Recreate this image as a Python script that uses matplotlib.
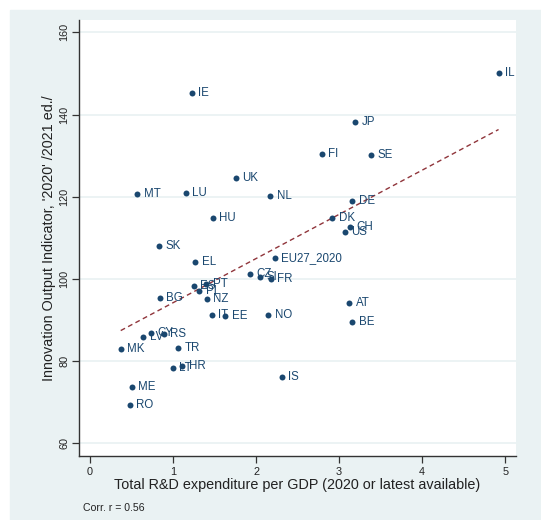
import matplotlib.pyplot as plt
from matplotlib.patches import Rectangle
import numpy as np

plt.rcParams['font.family'] = ['Liberation Sans', 'DejaVu Sans']

countries = ["IL", "IE", "JP", "FI", "SE", "UK", "MT", "LU", "NL", "DE",
             "HU", "DK", "CH", "US", "SK", "EU27_2020", "EL", "CZ", "SI", "FR",
             "PT", "ES", "PL", "BG", "NZ", "AT", "IT", "EE", "NO", "BE",
             "CY", "RS", "LV", "MK", "TR", "HR", "LT", "IS", "ME", "RO"]
rd_gdp = [4.92, 1.225, 3.19, 2.79, 3.38, 1.755, 0.57, 1.157, 2.17, 3.16,
          1.478, 2.92, 3.136, 3.07, 0.83, 2.225, 1.27, 1.924, 2.048, 2.18,
          1.40, 1.25, 1.317, 0.84, 1.41, 3.12, 1.47, 1.63, 2.145, 3.157,
          0.74, 0.89, 0.64, 0.37, 1.06, 1.11, 1.0, 2.31, 0.50, 0.48]
ioi = [150.2, 145.2, 138.3, 130.5, 130.1, 124.6, 120.6, 120.8, 120.2, 119.0,
       114.9, 114.7, 112.6, 111.5, 107.9, 105.0, 104.0, 101.1, 100.4, 100.0,
       98.8, 98.2, 97.1, 95.4, 95.0, 94.2, 91.1, 90.9, 91.1, 89.4,
       86.9, 86.7, 85.9, 83.0, 83.2, 78.8, 78.2, 76.1, 73.8, 69.2]
corr_text = "Corr. r = 0.56"

bg = "#EAF2F3"
navy = "#1A476F"
maroon = "#90353B"

fig = plt.figure(figsize=(5.41, 5.2), dpi=100, facecolor="white")
# Stata-style graph region behind the plot
fig.patches.append(Rectangle((10 / 541, 0), 531 / 541, 510 / 520,
                             transform=fig.transFigure, color=bg, zorder=-10))

ax = fig.add_axes([79 / 541, 64 / 520, 437 / 541, 436 / 520])
ax.set_facecolor("white")
ax.set_xlim(-0.1325, 5.13)
ax.set_ylim(56.9, 163.0)

for s in ["top", "right"]:
    ax.spines[s].set_visible(False)
for s in ["left", "bottom"]:
    ax.spines[s].set_color("#333333")
    ax.spines[s].set_linewidth(1.0)

ax.set_xticks([0, 1, 2, 3, 4, 5])
ax.set_yticks([60, 80, 100, 120, 140, 160])
ax.tick_params(axis="both", length=5, width=0.9, color="#333333",
               labelsize=7.8, labelcolor="#222222")
ax.tick_params(axis="x", pad=3)
ax.tick_params(axis="y", pad=2)
for lab in ax.get_yticklabels():
    lab.set_rotation(90)
    lab.set_va("center")

ax.grid(axis="y", color=bg, linewidth=1.3)
ax.set_axisbelow(True)

# linear fit over the data range
x = np.array(rd_gdp)
y = np.array(ioi)
b, a = np.polyfit(x, y, 1)
xf = np.array([x.min(), x.max()])
ax.plot(xf, a + b * xf, color=maroon, linestyle=(0, (3.5, 2.5)), linewidth=1.0,
        zorder=2)

ax.plot(x, y, "o", color=navy, markersize=4.3, markeredgewidth=0, zorder=3)
for name, xi, yi in zip(countries, rd_gdp, ioi):
    ax.annotate(name, xy=(xi, yi), xytext=(4.6, 0), textcoords="offset points",
                ha="left", va="center", fontsize=8.3, color=navy, zorder=4)

ax.set_xlabel("Total R&D expenditure per GDP (2020 or latest available)",
              fontsize=10.4, color="#222222", labelpad=1)
ax.set_ylabel("Innovation Output Indicator, '2020' /2021 ed./",
              fontsize=10.4, color="#222222", labelpad=2)

fig.text(83 / 541, 1 - 508 / 520, corr_text, fontsize=7.6, color="#222222",
         ha="left", va="center")

fig.savefig("out.png", dpi=100, facecolor="white")
